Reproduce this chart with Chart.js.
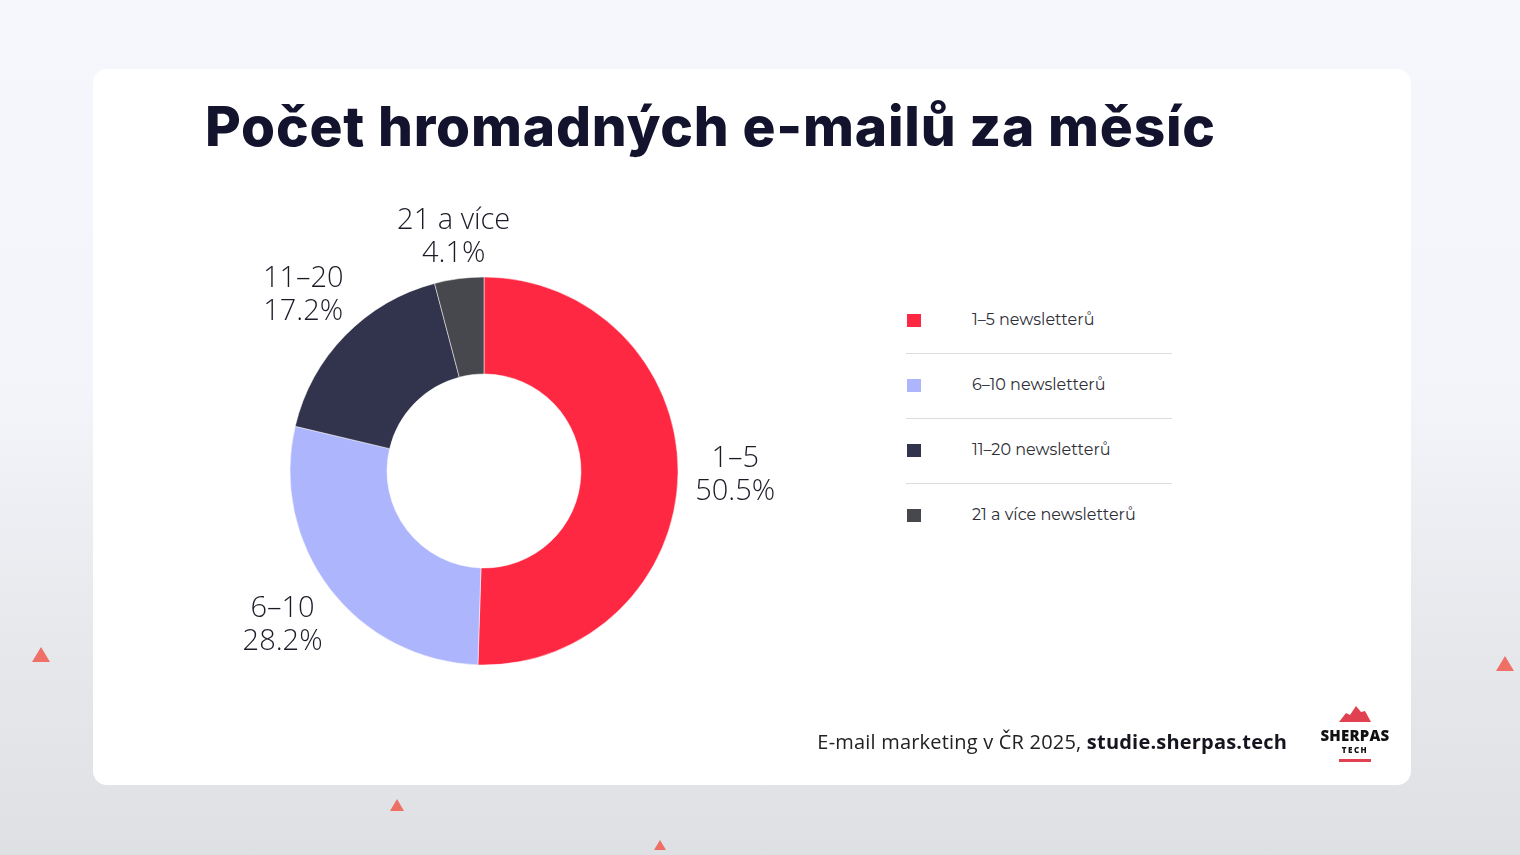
<!DOCTYPE html>
<html>
<head>
<meta charset="utf-8">
<script src="https://cdn.jsdelivr.net/npm/chart.js@4.4.0/dist/chart.umd.min.js"></script>
<style>
  html, body { margin: 0; padding: 0; }
  body {
    width: 1520px; height: 855px; overflow: hidden; position: relative;
    background: linear-gradient(180deg, #f6f7fc 0%, #f4f5fa 45%, #e9eaee 70%, #dfe0e4 100%);
    font-family: Montserrat, "Open Sans", "Noto Sans", sans-serif;
  }
  .tri { position: absolute; width: 18px; height: 15px; background: #ee5a4f; clip-path: polygon(50% 0, 100% 100%, 0 100%); opacity: .85; }
  .card {
    position: absolute; left: 93px; top: 69px; width: 1318px; height: 716px;
    background: #fff; border-radius: 14px;
  }
  h1 {
    position: absolute; left: 112px; top: 24px; margin: 0;
    font-family: Inter, "Open Sans", sans-serif; font-weight: 800; font-size: 55px;
    color: #13132d; letter-spacing: 0.8px; white-space: nowrap;
  }
  #wrap { position: absolute; left: 41px; top: 102px; width: 700px; height: 600px; }
  #legend { position: absolute; left: 813px; top: 220px; width: 266px; }
  .row { position: relative; height: 64px; border-bottom: 1px solid #dcdce0; }
  .row:last-child { border-bottom: none; }
  .sw { position: absolute; left: 1px; top: 25px; width: 14px; height: 13px; }
  .lt { position: absolute; left: 66px; top: 21px; font-size: 16px; color: #2e2e36; white-space: nowrap; }
  .foot {
    position: absolute; right: 124px; top: 659px; font-size: 20px; color: #222;
    font-family: "Open Sans", sans-serif; white-space: nowrap; letter-spacing: 0.2px;
  }
  .foot b { font-weight: 700; color: #15151f; }
  .logo { position: absolute; left: 1226px; top: 637px; width: 72px; text-align: center; }
  .logo .t1 { font-family: "Open Sans", sans-serif; font-weight: 800; font-size: 15px; color: #111; letter-spacing: 0.2px; margin-top: -1px; }
  .logo .t2 { font-family: "Open Sans", sans-serif; font-weight: 800; font-size: 8px; color: #111; letter-spacing: 1.5px; margin-top: -1px; }
  .logo .bar { width: 32px; height: 3px; background: #e0404f; margin: 4px auto 0; }
</style>
</head>
<body>
<div class="tri" style="left:32px;top:647px"></div>
<div class="tri" style="left:1496px;top:656px"></div>
<div class="tri" style="left:390px;top:799px;width:14px;height:12px"></div>
<div class="tri" style="left:654px;top:840px;width:12px;height:10px"></div>

<div class="card">
  <h1>Počet hromadných e-mailů za měsíc</h1>
  <div id="wrap"><canvas id="donut"></canvas></div>
  <div id="legend"></div>
  <div class="foot">E-mail marketing v ČR 2025, <b>studie.sherpas.tech</b></div>
  <div class="logo">
    <svg width="32" height="16" viewBox="0 0 32 16"><polygon points="0,16 7,7 11,9 17,0 22,6 26,5 32,16" fill="#e0404f"/></svg>
    <div class="t1">SHERPAS</div>
    <div class="t2">TECH</div>
    <div class="bar"></div>
  </div>
</div>

<script>
const categories = ['1–5', '6–10', '11–20', '21 a více'];
const legendLabels = ['1–5 newsletterů', '6–10 newsletterů', '11–20 newsletterů', '21 a více newsletterů'];
const shares = [50.5, 28.2, 17.2, 4.1];
const colors = ['#fe2842', '#adb5fd', '#32334d', '#47474e'];

// legend on the right
const legend = document.getElementById('legend');
legendLabels.forEach((txt, i) => {
  const row = document.createElement('div');
  row.className = 'row';
  row.innerHTML = '<span class="sw" style="background:' + colors[i] + '"></span><span class="lt">' + txt + '</span>';
  legend.appendChild(row);
});

// labels outside the arcs, pushed out by the size of the text box
const outerLabels = {
  id: 'outerLabels',
  afterDatasetsDraw(chart) {
    const ctx = chart.ctx;
    const meta = chart.getDatasetMeta(0);
    ctx.save();
    ctx.font = '300 29px "Open Sans", sans-serif';
    ctx.fillStyle = '#1c1c28';
    ctx.textAlign = 'center';
    ctx.textBaseline = 'middle';
    meta.data.forEach((arc, i) => {
      const l1 = categories[i];
      const l2 = shares[i].toFixed(1) + '%';
      const halfW = Math.max(ctx.measureText(l1).width, ctx.measureText(l2).width) / 2;
      const halfH = 18;
      const mid = (arc.startAngle + arc.endAngle) / 2;
      const c = Math.cos(mid), s = Math.sin(mid);
      const r = arc.outerRadius + 17 + Math.abs(c) * halfW + Math.abs(s) * halfH;
      const x = arc.x + c * r;
      const y = arc.y + s * r;
      ctx.fillText(l1, x, y - 16);
      ctx.fillText(l2, x, y + 17);
    });
    ctx.restore();
  }
};

new Chart(document.getElementById('donut'), {
  type: 'doughnut',
  data: {
    labels: categories,
    datasets: [{
      data: shares,
      backgroundColor: colors,
      borderColor: '#ffffff',
      borderWidth: 0.5,
      radius: 194,
      cutout: '50%'
    }]
  },
  options: {
    responsive: true,
    maintainAspectRatio: false,
    animation: false,
    plugins: {
      legend: { display: false },
      tooltip: { enabled: false }
    }
  },
  plugins: [outerLabels]
});
</script>
</body>
</html>
